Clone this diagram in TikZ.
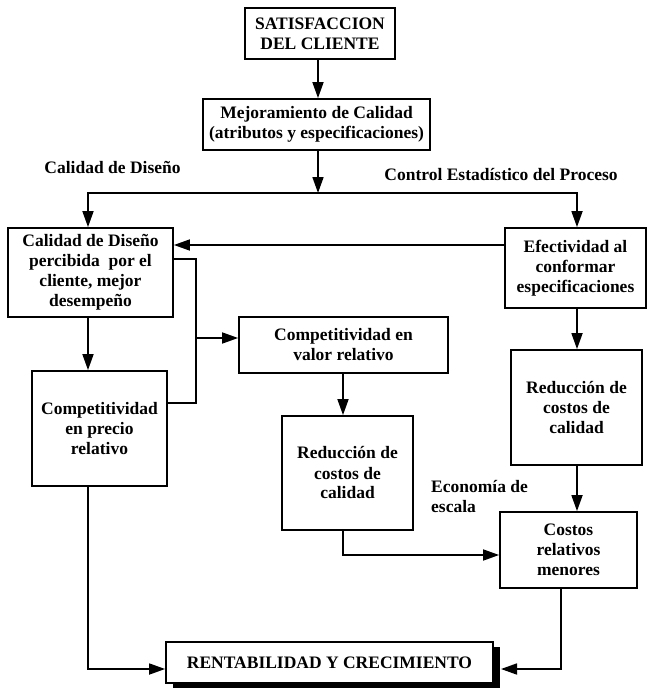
\documentclass[tikz,border=0pt]{standalone}
\usepackage{fontspec}
\setmainfont{Liberation Serif}
\usetikzlibrary{arrows.meta,shadows}
\begin{document}
\begin{tikzpicture}[x=1pt,y=-1pt,
  txt/.style={font=\bfseries\fontsize{17.5}{20}\selectfont},
  box/.style={txt, draw, fill=white, line width=1.8pt, inner sep=0pt, align=center},
  ln/.style={line width=1.7pt},
  arr/.style={ln, -{Triangle[length=16pt,width=11pt]}},
  lab/.style={txt, inner sep=0pt}]
\useasboundingbox (0,0) rectangle (650,690);
% boxes
\node[box, minimum width=150pt, minimum height=51pt] (sat) at (320,33.5) {SATISFACCION\\DEL CLIENTE};
\node[box, minimum width=227pt, minimum height=51pt] (mej) at (316.5,124.5) {Mejoramiento de Calidad\\(atributos y especificaciones)};
\node[box, minimum width=165pt, minimum height=89pt] (cal) at (90.5,272.5) {Calidad de Diseño\\percibida\ \ por el\\cliente, mejor\\desempeño};
\node[box, minimum width=141pt, minimum height=80pt] (efe) at (575.5,268) {Efectividad al\\conformar\\especificaciones};
\node[box, minimum width=135pt, minimum height=115pt] (pre) at (99.5,428.5) {Competitividad\\en precio\\relativo};
\node[box, minimum width=209pt, minimum height=56pt] (val) at (343.5,345) {Competitividad en\\valor relativo};
\node[box, minimum width=131pt, minimum height=114pt] (red1) at (347.5,473) {Reducción de\\costos de\\calidad};
\node[box, minimum width=131pt, minimum height=115pt] (red2) at (576.5,407.5) {Reducción de\\costos de\\calidad};
\node[box, minimum width=137pt, minimum height=76pt] (cos) at (568.5,550) {Costos\\relativos\\menores};
\node[box, minimum width=327pt, minimum height=41pt,
      drop shadow={shadow xshift=7pt, shadow yshift=-5pt, fill=black, opacity=1}] (ren) at (329.5,662.5) {RENTABILIDAD Y CRECIMIENTO};
% labels
\node[lab] (lcd) at (112.5,167) {Calidad de Diseño};
\node[lab] (lce) at (501,175) {Control Estadístico del Proceso};
\node[lab, anchor=west, align=left] (leco) at (431,496) {Economía de\\escala};
% helper coordinates
\coordinate (xL) at (88,0);
\coordinate (xM) at (318,0);
\coordinate (xR) at (577,0);
\coordinate (xV) at (343,0);
\coordinate (xJ) at (196,0);
\coordinate (xC) at (561,0);
\coordinate (split) at (318,193);
\coordinate (yA) at (0,245);
\coordinate (yB) at (0,259);
\coordinate (yV) at (0,338);
\coordinate (yD) at (0,403);
\coordinate (yE) at (0,555);
\coordinate (yF) at (0,669);
\coordinate (renR) at (501,669);
% connectors
\draw[arr] (sat.south -| xM) -- (mej.north -| xM);
\draw[arr] (mej.south -| xM) -- (split);
\draw[arr] (split) -| (cal.north -| xL);
\draw[arr] (split) -| (efe.north -| xR);
\draw[arr] (efe.west |- yA) -- (cal.east |- yA);
\draw[ln] (cal.east |- yB) -| (xJ |- yD) -- (pre.east |- yD);
\draw[arr] (xJ |- yV) -- (val.west |- yV);
\draw[arr] (cal.south -| xL) -- (pre.north -| xL);
\draw[arr] (val.south -| xV) -- (red1.north -| xV);
\draw[arr] (efe.south -| xR) -- (red2.north -| xR);
\draw[arr] (red2.south -| xR) -- (cos.north -| xR);
\draw[arr] (red1.south -| xV) |- (cos.west |- yE);
\draw[arr] (pre.south -| xL) |- (ren.west |- yF);
\draw[arr] (cos.south -| xC) |- (renR);
\end{tikzpicture}
\end{document}
